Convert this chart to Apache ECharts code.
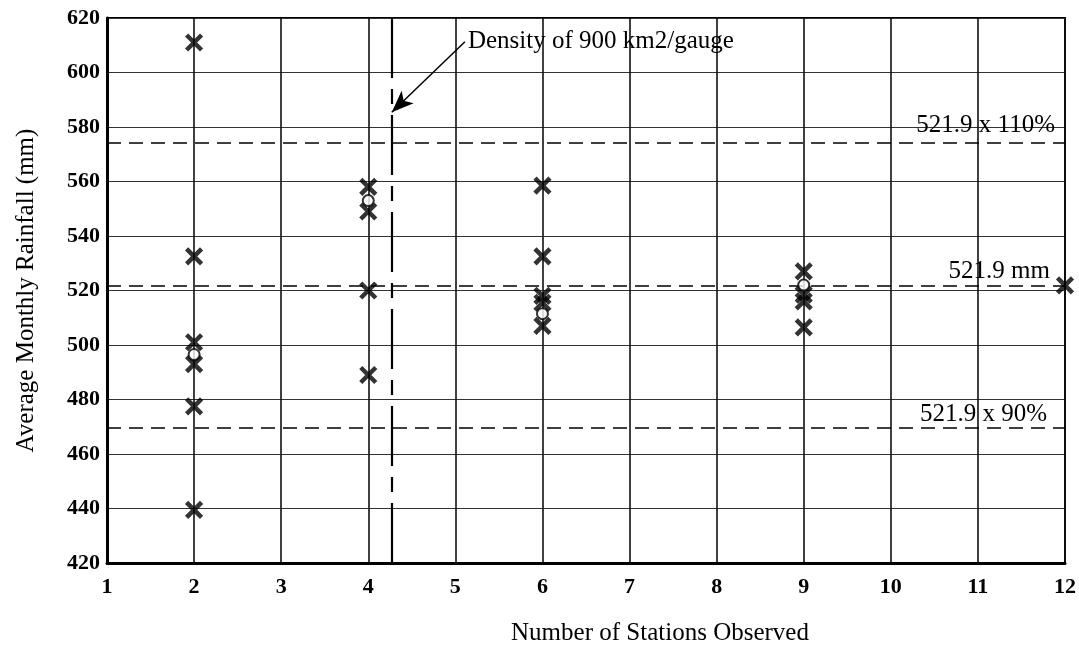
<!DOCTYPE html>
<html>
<head>
<meta charset="utf-8">
<script src="https://cdn.jsdelivr.net/npm/echarts@6/dist/echarts.min.js"></script>
<style>
  html, body { margin: 0; padding: 0; background: #fff; }
  #chart { width: 1079px; height: 651px; }
</style>
</head>
<body>
<div id="chart"></div>
<script>
// Individual station-subset averages (x = number of stations, y = mm)
const sampleStations = [2, 2, 2, 2, 2, 2, 4, 4, 4, 4, 6, 6, 6, 6, 6, 9, 9, 9, 9, 12];
const sampleRainfall = [611, 532.5, 501, 493, 477.5, 439.5,
                        558, 549, 520, 489,
                        558.5, 532.5, 518, 515.5, 507,
                        527, 518.5, 516, 506.5,
                        521.9];

// Mean of each group of subsets
const meanStations = [2, 4, 6, 9];
const meanRainfall = [496.5, 553, 511.5, 522];

// Reference level and tolerance band
const overallMean = 521.9;
const bandFactors = [1.1, 1.0, 0.9];
const bandLabels = ['521.9 x 110%', '521.9 mm', '521.9 x 90%'];

// Station count matching a density of 900 km2 per gauge
const densityStations = 4.27;
const densityNote = 'Density of 900 km2/gauge';
const noteAnchor = [5.11, 611.3];
const arrowTip = [densityStations, 585.4];

const xTitle = 'Number of Stations Observed';
const yTitle = 'Average Monthly Rainfall (mm)';

const FONT = '"Liberation Serif", "Times New Roman", serif';

const pairs = (xs, ys) => xs.map((x, i) => [x, ys[i]]);

// Band labels sit just above their lines, near the right edge
const bandLabelStyle = [
  { distance: [10, 5] },
  { distance: [15, 1] },
  { distance: [18, 1] }
];

const bandLines = bandFactors.map((f, i) => ({
  yAxis: +(overallMean * f).toFixed(2),
  label: {
    show: true,
    formatter: bandLabels[i],
    position: 'insideEndTop',
    distance: bandLabelStyle[i].distance,
    fontFamily: FONT,
    fontSize: 25,
    color: '#000'
  }
}));

const crossSymbol = 'path://M0,0 L10,10 M10,0 L0,10';

const chart = echarts.init(document.getElementById('chart'), null, { renderer: 'canvas' });

chart.setOption({
  animation: false,
  backgroundColor: '#fff',
  grid: {
    left: 107, right: 14, top: 18, bottom: 84,
    show: true,
    borderColor: '#000',
    borderWidth: 2
  },
  xAxis: {
    type: 'value',
    min: 1, max: 12, interval: 1,
    name: xTitle,
    nameLocation: 'middle',
    nameGap: 58,
    nameTextStyle: { fontFamily: FONT, fontSize: 25, color: '#000', padding: [0, 0, 0, 148] },
    axisLine: { show: true, onZero: false, lineStyle: { color: '#000', width: 3 } },
    axisTick: { show: false },
    axisLabel: { fontFamily: FONT, fontSize: 22, fontWeight: 'bold', color: '#000', margin: 13 },
    splitLine: { show: true, lineStyle: { color: '#111', width: 1.6 } }
  },
  yAxis: {
    type: 'value',
    min: 420, max: 620, interval: 20,
    name: yTitle,
    nameLocation: 'middle',
    nameGap: 68,
    nameTextStyle: { fontFamily: FONT, fontSize: 25, color: '#000' },
    axisLine: { show: true, onZero: false, lineStyle: { color: '#000', width: 3 } },
    axisTick: { show: false },
    axisLabel: { fontFamily: FONT, fontSize: 22, fontWeight: 'bold', color: '#000', margin: 7 },
    splitLine: { show: true, lineStyle: { color: '#333', width: 1.2 } }
  },
  series: [
    {
      // tolerance band, density marker line and annotation arrow
      type: 'line',
      data: [],
      silent: true,
      markLine: {
        silent: true,
        symbol: 'none',
        animation: false,
        lineStyle: { color: '#000', width: 1.6, type: [14, 8] },
        data: bandLines
      }
    },
    {
      type: 'line',
      data: [],
      silent: true,
      markLine: {
        silent: true,
        symbol: 'none',
        animation: false,
        lineStyle: { color: '#000', width: 2.2, type: [60, 11, 15, 11] },
        label: { show: false },
        data: [{ xAxis: densityStations }]
      }
    },
    {
      type: 'line',
      data: [],
      silent: true,
      markLine: {
        silent: true,
        animation: false,
        lineStyle: { color: '#000', width: 1.5, type: 'solid' },
        label: { show: false },
        data: [[
          { coord: noteAnchor, symbol: 'none' },
          { coord: arrowTip, symbol: 'arrow', symbolSize: [13, 22] }
        ]]
      },
      markPoint: {
        silent: true,
        animation: false,
        symbol: 'circle',
        symbolSize: 0,
        label: {
          show: true,
          position: 'right',
          distance: 3,
          formatter: densityNote,
          fontFamily: FONT,
          fontSize: 25,
          color: '#000'
        },
        data: [{ coord: noteAnchor }]
      }
    },
    {
      name: 'Subset average',
      type: 'scatter',
      data: pairs(sampleStations, sampleRainfall),
      symbol: crossSymbol,
      symbolSize: 15,
      itemStyle: { color: 'transparent', borderColor: '#000', borderWidth: 4.5 },
      z: 5
    },
    {
      name: 'Group mean',
      type: 'scatter',
      data: pairs(meanStations, meanRainfall),
      symbol: 'emptyCircle',
      symbolSize: 11,
      itemStyle: { color: '#000', borderColor: '#000', borderWidth: 2.5 },
      z: 6
    }
  ]
});
</script>
</body>
</html>
